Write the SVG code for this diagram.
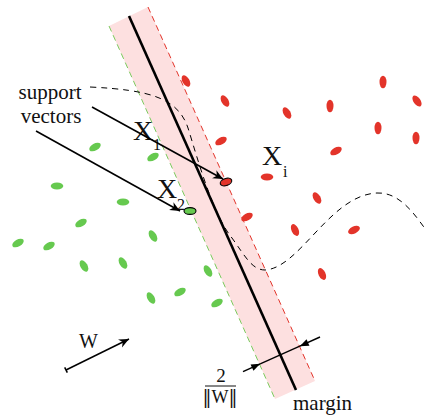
<svg xmlns="http://www.w3.org/2000/svg" width="426" height="417" viewBox="0 0 426 417">
<style>
.r{fill:#e3342a}
.g{fill:#66c94f}
.t{font-family:"Liberation Serif","DejaVu Serif",serif;fill:#111}
.dv{font-family:"DejaVu Serif","DejaVu Sans",serif}
.ln{stroke:#000;fill:none}
</style>
<defs>
<marker id="barb" viewBox="-11 -5 12 10" refX="0" refY="0" markerWidth="12" markerHeight="10" markerUnits="userSpaceOnUse" orient="auto">
<path d="M0,0 L-10,-4.5 L-7,0 L-10,4.5 Z" fill="#000"/>
</marker>
<marker id="tri" viewBox="-10 -4 11 8" refX="0" refY="0" markerWidth="11" markerHeight="8" markerUnits="userSpaceOnUse" orient="auto">
<path d="M0,0 L-9,-3.5 L-9,3.5 Z" fill="#000"/>
</marker>
</defs>
<rect width="426" height="417" fill="#fff"/>
<g id="band">
<polygon points="109,26 148,7 315,381 275,399" fill="#fde0e0"/>
<line x1="109" y1="26" x2="275" y2="399" stroke="#7ccb5e" stroke-width="1" stroke-dasharray="6,4"/>
<line x1="148" y1="7" x2="315" y2="381" stroke="#e3342a" stroke-width="1" stroke-dasharray="6,4"/>
<line x1="129" y1="16" x2="296" y2="390" stroke="#000" stroke-width="2.6"/>
</g>
<g id="boundary">
<path d="M90,87 C150,90 178,98 188,128 C198,160 213,215 232,238 C245,256 252,270 265,270 C300,268 330,195 377,193 C400,192 415,215 426,230" class="ln" stroke-width="1" stroke-dasharray="6,5"/>
</g>
<g id="red-points">
<ellipse class="r" cx="0" cy="0" rx="6.3" ry="3.5" transform="translate(186,81) rotate(60)"/>
<ellipse class="r" cx="0" cy="0" rx="6.3" ry="3.5" transform="translate(225,101) rotate(60)"/>
<ellipse class="r" cx="0" cy="0" rx="6.3" ry="3.5" transform="translate(287,113) rotate(60)"/>
<ellipse class="r" cx="0" cy="0" rx="6.3" ry="3.5" transform="translate(330,106) rotate(90)"/>
<ellipse class="r" cx="0" cy="0" rx="6.3" ry="3.5" transform="translate(383,82) rotate(90)"/>
<ellipse class="r" cx="0" cy="0" rx="6.3" ry="3.5" transform="translate(417,101) rotate(55)"/>
<ellipse class="r" cx="0" cy="0" rx="6.3" ry="3.5" transform="translate(378,128) rotate(90)"/>
<ellipse class="r" cx="0" cy="0" rx="6.3" ry="3.5" transform="translate(416,138) rotate(90)"/>
<ellipse class="r" cx="0" cy="0" rx="6.3" ry="3.5" transform="translate(221,141) rotate(-30)"/>
<ellipse class="r" cx="0" cy="0" rx="6.3" ry="3.5" transform="translate(336,151) rotate(-30)"/>
<ellipse class="r" cx="0" cy="0" rx="6.3" ry="3.5" transform="translate(267,177) rotate(0)"/>
<ellipse class="r" cx="0" cy="0" rx="6.3" ry="3.5" transform="translate(317,198) rotate(60)"/>
<ellipse class="r" cx="0" cy="0" rx="6.3" ry="3.5" transform="translate(247,217) rotate(-30)"/>
<ellipse class="r" cx="0" cy="0" rx="6.3" ry="3.5" transform="translate(295,230) rotate(65)"/>
<ellipse class="r" cx="0" cy="0" rx="6.3" ry="3.5" transform="translate(354,230) rotate(-25)"/>
<ellipse class="r" cx="0" cy="0" rx="6.3" ry="3.5" transform="translate(322,274) rotate(65)"/>
</g>
<g id="green-points">
<ellipse class="g" cx="0" cy="0" rx="6.3" ry="3.5" transform="translate(95,147) rotate(-30)"/>
<ellipse class="g" cx="0" cy="0" rx="6.3" ry="3.5" transform="translate(153,157) rotate(-30)"/>
<ellipse class="g" cx="0" cy="0" rx="6.3" ry="3.5" transform="translate(57,186) rotate(0)"/>
<ellipse class="g" cx="0" cy="0" rx="6.3" ry="3.5" transform="translate(123,202) rotate(0)"/>
<ellipse class="g" cx="0" cy="0" rx="6.3" ry="3.5" transform="translate(81,223) rotate(-30)"/>
<ellipse class="g" cx="0" cy="0" rx="6.3" ry="3.5" transform="translate(18,243) rotate(-30)"/>
<ellipse class="g" cx="0" cy="0" rx="6.3" ry="3.5" transform="translate(49,246) rotate(-30)"/>
<ellipse class="g" cx="0" cy="0" rx="6.3" ry="3.5" transform="translate(153,236) rotate(60)"/>
<ellipse class="g" cx="0" cy="0" rx="6.3" ry="3.5" transform="translate(84,266) rotate(60)"/>
<ellipse class="g" cx="0" cy="0" rx="6.3" ry="3.5" transform="translate(123,263) rotate(60)"/>
<ellipse class="g" cx="0" cy="0" rx="6.3" ry="3.5" transform="translate(208,271) rotate(60)"/>
<ellipse class="g" cx="0" cy="0" rx="6.3" ry="3.5" transform="translate(151,298) rotate(60)"/>
<ellipse class="g" cx="0" cy="0" rx="6.3" ry="3.5" transform="translate(180,292) rotate(-30)"/>
<ellipse class="g" cx="0" cy="0" rx="6.3" ry="3.5" transform="translate(217,303) rotate(-30)"/>
</g>
<g id="support-x1">
<ellipse cx="0" cy="0" rx="6" ry="3.5" fill="#e3342a" stroke="#000" stroke-width="1.1" transform="translate(226,182) rotate(-20)"/>
<text class="t" x="133" y="140" font-size="28">X</text>
<text class="t" x="153" y="150" font-size="16">1</text>
</g>
<g id="support-x2">
<ellipse cx="190" cy="211" rx="6" ry="3.4" fill="#66c94f" stroke="#000" stroke-width="1.1"/>
<text class="t" x="157" y="198" font-size="28">X</text>
<text class="t" x="177" y="210" font-size="16">2</text>
</g>
<g id="label-xi">
<text class="t" x="262" y="165" font-size="28">X</text>
<text class="t" x="283" y="177" font-size="16">i</text>
</g>
<g id="label-support">
<text class="t" x="50" y="99" font-size="21" text-anchor="middle">support</text>
<text class="t" x="51" y="123" font-size="21" text-anchor="middle">vectors</text>
</g>
<g id="label-w">
<text class="t" x="79" y="348" font-size="20">W</text>
</g>
<g id="label-margin">
<text class="t" x="221" y="382" font-size="19" text-anchor="middle">2</text>
<line x1="205" y1="386" x2="236" y2="386" stroke="#111" stroke-width="1"/>
<text class="t" x="220" y="403" font-size="18" text-anchor="middle"><tspan class="dv">‖</tspan>W<tspan class="dv">‖</tspan></text>
<text class="t" x="293" y="410" font-size="21">margin</text>
</g>
<g id="connectors">
<line x1="92" y1="107" x2="223" y2="179" class="ln" stroke-width="1.6" marker-end="url(#barb)"/>
<line x1="36" y1="131" x2="180" y2="211" class="ln" stroke-width="1.6" marker-end="url(#barb)"/>
<line x1="66" y1="370" x2="129" y2="339" class="ln" stroke-width="1.5" marker-end="url(#barb)"/>
<line x1="64.7" y1="367.3" x2="67.3" y2="372.7" class="ln" stroke-width="1.5"/>
<line x1="243" y1="371.7" x2="260.2" y2="363.8" class="ln" stroke-width="1.4" marker-end="url(#tri)"/>
<line x1="320" y1="337" x2="299.8" y2="346.2" class="ln" stroke-width="1.4" marker-end="url(#tri)"/>
<line x1="260.2" y1="363.8" x2="299.8" y2="346.2" class="ln" stroke-width="1.4"/>
</g>
</svg>
